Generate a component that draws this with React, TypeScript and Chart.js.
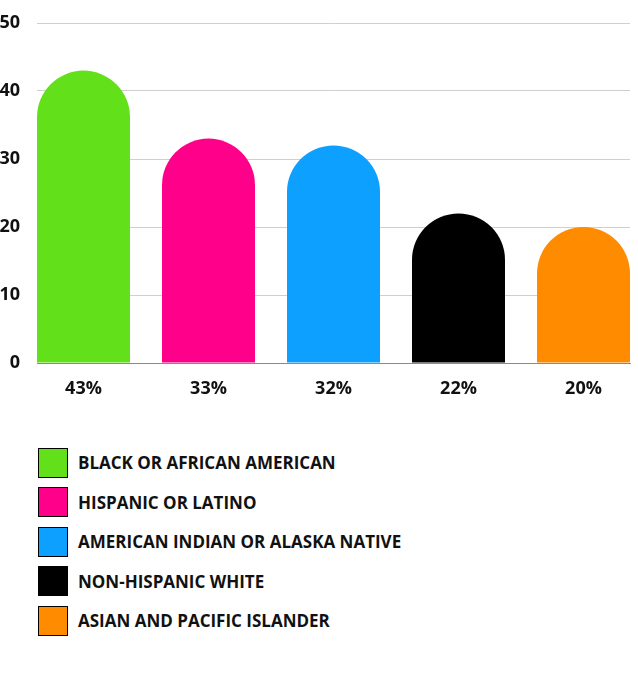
import React, { useEffect, useRef } from "react";
import { Chart, registerables } from "chart.js";

Chart.register(...registerables);

const categories = [
  "BLACK OR AFRICAN AMERICAN",
  "HISPANIC OR LATINO",
  "AMERICAN INDIAN OR ALASKA NATIVE",
  "NON-HISPANIC WHITE",
  "ASIAN AND PACIFIC ISLANDER",
];
const values = [43, 33, 32, 22, 20];
const tickLabels = ["43%", "33%", "32%", "22%", "20%"];
const colors = ["#62e01a", "#ff008a", "#0ea0ff", "#000000", "#ff8c00"];
const yTicks = [0, 10, 20, 30, 40, 50];

const FONT = "'Open Sans', 'DejaVu Sans', sans-serif";

export default function App() {
  const ref = useRef<HTMLCanvasElement | null>(null);

  useEffect(() => {
    document.body.style.margin = "0";
    const canvas = ref.current;
    if (!canvas) return;
    const chart = new Chart(canvas, {
      type: "bar",
      data: {
        datasets: [
          {
            data: values.map((v, i) => ({ x: i, y: v })),
            backgroundColor: colors,
            borderWidth: 0,
            borderRadius: { topLeft: 200, topRight: 200, bottomLeft: 0, bottomRight: 0 },
            borderSkipped: "bottom",
            barPercentage: 0.744,
            categoryPercentage: 1,
          },
        ],
      },
      options: {
        responsive: false,
        animation: false,
        layout: { padding: { top: 23, right: 8, left: 0, bottom: 0 } },
        plugins: { legend: { display: false }, tooltip: { enabled: false } },
        scales: {
          x: {
            type: "linear",
            offset: false,
            min: -0.372,
            max: 4.372,
            afterBuildTicks: (s: any) => {
              s.ticks = tickLabels.map((_, i) => ({ value: i }));
            },
            afterFit: (s: any) => {
              s.height = 47;
            },
            grid: { display: false },
            border: { display: true, color: "#8a8a8a", width: 1 },
            ticks: {
              autoSkip: false,
              maxRotation: 0,
              padding: 7,
              color: "#111",
              font: { family: FONT, size: 18, weight: "bold" },
              callback: (v: any) => tickLabels[Number(v)] ?? "",
            },
          },
          y: {
            min: 0,
            max: 50,
            afterBuildTicks: (s: any) => {
              s.ticks = yTicks.map((v) => ({ value: v }));
            },
            afterFit: (s: any) => {
              s.width = 37;
              s.paddingTop = 0;
              s.paddingBottom = 0;
            },
            border: { display: false },
            grid: { color: "#cfcfcf", lineWidth: 1, drawTicks: false },
            ticks: {
              padding: 17,
              color: "#111",
              font: { family: FONT, size: 18, weight: "bold" },
            },
          },
        },
      },
    });
    return () => chart.destroy();
  }, []);

  return (
    <div style={{ width: 638, height: 680, position: "relative", background: "#fff" }}>
      <canvas ref={ref} width={638} height={410} style={{ display: "block" }} />
      <div style={{ position: "absolute", left: 38, top: 443 }}>
        {categories.map((c, i) => (
          <div
            key={c}
            style={{ display: "flex", alignItems: "center", height: 39.5 }}
          >
            <div
              style={{
                width: 28,
                height: 28,
                background: colors[i],
                border: "1px solid #000",
                flex: "none",
              }}
            />
            <span
              style={{
                marginLeft: 10,
                fontFamily: FONT,
                fontWeight: 700,
                fontSize: 17,
                color: "#111",
              }}
            >
              {c}
            </span>
          </div>
        ))}
      </div>
    </div>
  );
}
